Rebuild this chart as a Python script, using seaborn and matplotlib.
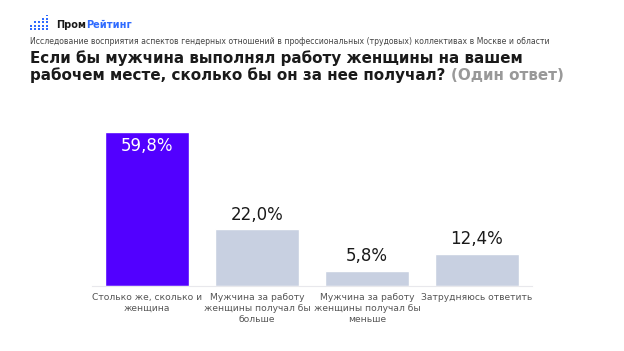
import matplotlib
matplotlib.use("Agg")
import matplotlib.pyplot as plt
import seaborn as sns
import pandas as pd
from matplotlib.patches import Rectangle

categories = ["Столько же, сколько и\nженщина",
              "Мужчина за работу\nженщины получал бы\nбольше",
              "Мужчина за работу\nженщины получал бы\nменьше",
              "Затрудняюсь ответить"]
values = [59.8, 22.0, 5.8, 12.4]
value_labels = ["59,8%", "22,0%", "5,8%", "12,4%"]
colors = ["#5200FF", "#C8D0E1", "#C8D0E1", "#C8D0E1"]

sns.set_theme(style="white")
plt.rcParams['font.family'] = ['DejaVu Sans']

fig = plt.figure(figsize=(6.24, 3.51), dpi=100)
ax = fig.add_axes([92/624, 1-286/351, 440/624, 154.8/351])

df = pd.DataFrame({"cat": categories, "val": values})
sns.barplot(data=df, x="cat", y="val", hue="cat", palette=colors, legend=False,
            width=0.755, ax=ax, saturation=1)
ax.set_ylim(0, 60)
ax.set_xlim(-0.5, 3.5)
for s in ["top", "right", "left"]:
    ax.spines[s].set_visible(False)
ax.spines["bottom"].set_color("#E8E8EC")
ax.spines["bottom"].set_linewidth(0.8)
ax.set_yticks([])
ax.set_xlabel("")
ax.set_ylabel("")
ax.tick_params(axis="x", length=0, pad=5, labelsize=6.6, labelcolor="#555555")
for t in ax.get_xticklabels():
    t.set_linespacing(1.3)
    t.set_verticalalignment("top")

for i, (v, lab) in enumerate(zip(values, value_labels)):
    if i == 0:
        ax.text(i, v - 2.0, lab, ha="center", va="top", color="white", fontsize=12)
    else:
        ax.text(i, v + 2.2, lab, ha="center", va="bottom", color="#1a1a1a", fontsize=12)

# logo
blue = "#2F6BFF"
cols_h = [2, 3, 3, 4, 5]
for ci, h in enumerate(cols_h):
    for r in range(h):
        x = 30 + ci * 4
        y = 30 - r * 3.4
        fig.add_artist(Rectangle((x/624, 1-y/351), 1.6/624, 1.8/351,
                                 transform=fig.transFigure, color=blue, lw=0))
fig.canvas.draw()
t_p = fig.text(56/624, 1-25/351, "Пром", fontsize=7, fontweight="bold", color="#1a1a1a",
               va="center", ha="left")
fig.canvas.draw()
bbp = t_p.get_window_extent()
fig.text(bbp.x1/624, 1-25/351, "Рейтинг", fontsize=7, fontweight="bold", color=blue,
         va="center", ha="left")

fig.text(30/624, 1-41/351,
         "Исследование восприятия аспектов гендерных отношений в профессиональных (трудовых) коллективах в Москве и области",
         fontsize=5.55, color="#444444", va="center", ha="left")
fig.text(30/624, 1-58/351, "Если бы мужчина выполнял работу женщины на вашем",
         fontsize=10.9, fontweight="bold", color="#1a1a1a", va="center", ha="left")
t2 = fig.text(30/624, 1-75.5/351, "рабочем месте, сколько бы он за нее получал? ",
              fontsize=10.9, fontweight="bold", color="#1a1a1a", va="center", ha="left")
fig.canvas.draw()
bb = t2.get_window_extent()
fig.text(bb.x1/624, 1-75.5/351, "(Один ответ)",
         fontsize=10.9, fontweight="bold", color="#999999", va="center", ha="left")

fig.savefig("out.png", dpi=100, facecolor="white")
